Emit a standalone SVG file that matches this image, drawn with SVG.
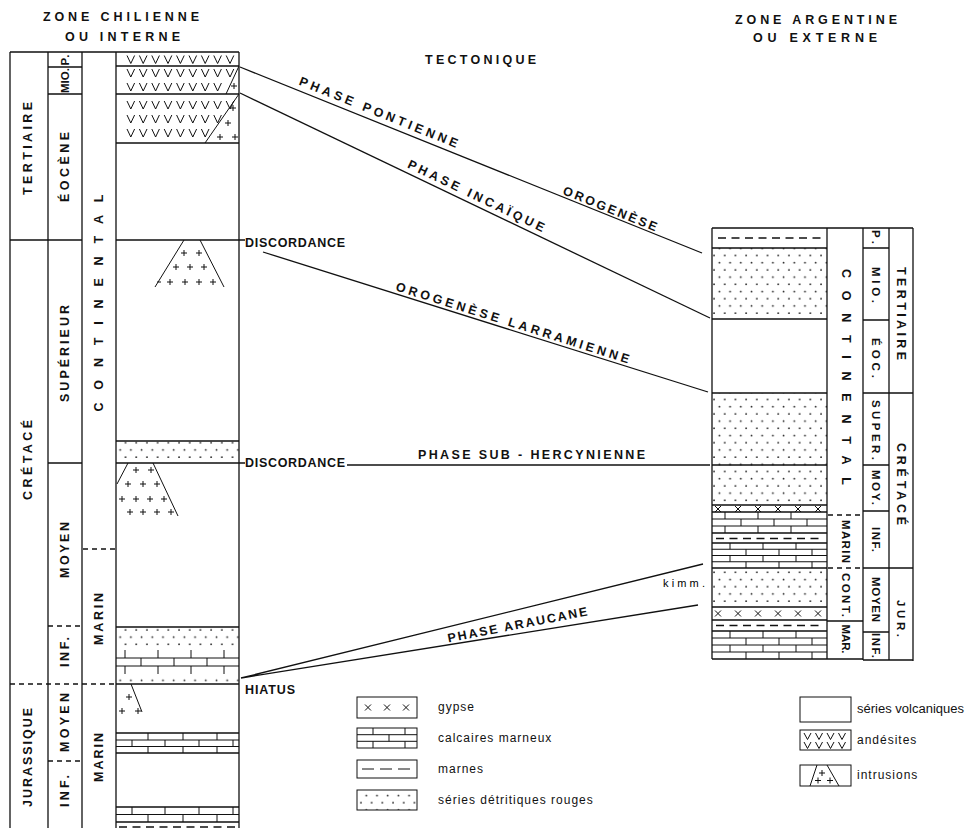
<svg xmlns="http://www.w3.org/2000/svg" width="969" height="828" viewBox="0 0 969 828">
<style>
.ln{stroke:#111;stroke-width:1.3;fill:none}
.th{stroke:#111;stroke-width:1;fill:none}
.dsh{stroke-dasharray:5 4}
.md{stroke:#111;stroke-width:1.3;fill:none;stroke-dasharray:8 5.5}
.t{font-family:"Liberation Sans",Arial,sans-serif;font-weight:bold;font-size:12.5px;fill:#111;text-anchor:middle;dominant-baseline:central}
.s{font-size:11.5px}
.lg{font-family:"Liberation Sans",Arial,sans-serif;font-size:12px;letter-spacing:1px;fill:#111}
.dot{fill:url(#dots);stroke:none}
</style>
<defs>
<pattern id="dots" patternUnits="userSpaceOnUse" width="10.7" height="14.4">
<circle cx="2.5" cy="3.5" r="0.9" fill="#222"/>
<circle cx="7.85" cy="10.7" r="0.9" fill="#222"/>
</pattern>
</defs>
<rect width="969" height="828" fill="#fff"/>

<g id="headers">
<text class="t" x="121" y="17" textLength="156">ZONE CHILIENNE</text>
<text class="t" x="122.5" y="37" textLength="115">OU INTERNE</text>
<text class="t" x="816" y="20" textLength="162">ZONE ARGENTINE</text>
<text class="t" x="815" y="37.5" textLength="124">OU EXTERNE</text>
<text class="t" x="480.5" y="60" textLength="111">TECTONIQUE</text>
</g>

<g id="zone-chilienne">
<rect class="dot" x="116" y="441" width="123" height="22"/>
<rect class="dot" x="116" y="627" width="123" height="23"/>
<rect class="dot" x="116" y="674" width="123" height="10"/>
<path class="ln" d="M10,52 H239 M10,52 V828 M48,52 V828 M82,52 V828 M116,52 V828 M239,52 V828"/>
<path class="ln" d="M116,66 H239 M48,67 H82 M48,94 H82 M116,94 H239 M116,143 H239 M10,240 H82 M116,240 H245 M116,441 H239 M48,463 H82 M116,463 H245 M116,627 H239 M116,684 H239 M116,733 H239 M116,753 H239 M116,807 H239 M116,822 H239"/>
<path class="ln dsh" d="M83,549 H116 M48,626 H82 M10,684 H116 M48,761 H82"/>
<path class="th" d="M127,55.5 l3.8,8 3.8,-8 m4.8,0 l3.8,8 3.8,-8 m4.8,0 l3.8,8 3.8,-8 m4.8,0 l3.8,8 3.8,-8 m4.8,0 l3.8,8 3.8,-8 m4.8,0 l3.8,8 3.8,-8 m4.8,0 l3.8,8 3.8,-8 m4.8,0 l3.8,8 3.8,-8 m4.8,0 l3.8,8 3.8,-8"/>
<path class="th" d="M127,69 l3.8,8 3.8,-8 m4.8,0 l3.8,8 3.8,-8 m4.8,0 l3.8,8 3.8,-8 m4.8,0 l3.8,8 3.8,-8 m4.8,0 l3.8,8 3.8,-8 m4.8,0 l3.8,8 3.8,-8 m4.8,0 l3.8,8 3.8,-8 m4.8,0 l3.8,8 3.8,-8 m4.8,0 l3.8,8 3.8,-8"/>
<path class="th" d="M127,83 l3.8,8 3.8,-8 m4.8,0 l3.8,8 3.8,-8 m4.8,0 l3.8,8 3.8,-8 m4.8,0 l3.8,8 3.8,-8 m4.8,0 l3.8,8 3.8,-8 m4.8,0 l3.8,8 3.8,-8 m4.8,0 l3.8,8 3.8,-8 m4.8,0 l3.8,8 3.8,-8"/>
<path class="th" d="M127,101 l3.8,8 3.8,-8 m4.8,0 l3.8,8 3.8,-8 m4.8,0 l3.8,8 3.8,-8 m4.8,0 l3.8,8 3.8,-8 m4.8,0 l3.8,8 3.8,-8 m4.8,0 l3.8,8 3.8,-8 m4.8,0 l3.8,8 3.8,-8 m4.8,0 l3.8,8 3.8,-8 m4.8,0 l3.8,8 3.8,-8"/>
<path class="th" d="M127,115 l3.8,8 3.8,-8 m4.8,0 l3.8,8 3.8,-8 m4.8,0 l3.8,8 3.8,-8 m4.8,0 l3.8,8 3.8,-8 m4.8,0 l3.8,8 3.8,-8 m4.8,0 l3.8,8 3.8,-8 m4.8,0 l3.8,8 3.8,-8 m4.8,0 l3.8,8 3.8,-8"/>
<path class="th" d="M127,129 l3.8,8 3.8,-8 m4.8,0 l3.8,8 3.8,-8 m4.8,0 l3.8,8 3.8,-8 m4.8,0 l3.8,8 3.8,-8 m4.8,0 l3.8,8 3.8,-8 m4.8,0 l3.8,8 3.8,-8 m4.8,0 l3.8,8 3.8,-8"/>
<path class="th" d="M239,66 L226,94 M239,94 L205,143"/>
<path class="th" d="M231,86 h6 M234,83 v6 M230,108 h6 M233,105 v6 M225,123 h6 M228,120 v6 M217,137 h6 M220,134 v6 M232,137 h6 M235,134 v6"/>
<path class="th" d="M184,240 L155,287 M200,240 L224,287"/>
<path class="th" d="M181,253 h6 M184,250 v6 M196,253 h6 M199,250 v6 M173,267 h6 M176,264 v6 M187,267 h6 M190,264 v6 M201,267 h6 M204,264 v6 M167,282 h6 M170,279 v6 M182,282 h6 M185,279 v6 M196,282 h6 M199,279 v6 M210,282 h6 M213,279 v6 M157,282 h4"/>
<path class="th" d="M128,463 L117,484 M153,463 L178,516"/>
<path class="th" d="M133,470 h6 M136,467 v6 M148,470 h6 M151,467 v6 M125,484 h6 M128,481 v6 M140,484 h6 M143,481 v6 M154,484 h6 M157,481 v6 M119,499 h6 M122,496 v6 M133,499 h6 M136,496 v6 M147,499 h6 M150,496 v6 M161,499 h6 M164,496 v6 M127,512 h6 M130,509 v6 M140,512 h6 M143,509 v6 M154,512 h6 M157,509 v6 M168,512 h6 M171,509 v6"/>
<path class="th" d="M131,684 L142,712"/>
<path class="th" d="M126,697 h6 M129,694 v6 M119,711 h6 M122,708 v6 M135,711 h6 M138,708 v6"/>
<path class="th" d="M116,658 H239 M116,666 H239 M125,650 V658 M158,650 V658 M191,650 V658 M224,650 V658 M141,658 V666 M174,658 V666 M207,658 V666 M125,666 V674 M158,666 V674 M191,666 V674 M224,666 V674"/>
<path class="th" d="M116,740 H239 M116,746.5 H239 M148,733 V740 M183,733 V740 M217,733 V740 M132,740 V746.5 M165,740 V746.5 M199,740 V746.5 M233,740 V746.5 M148,746.5 V753 M183,746.5 V753 M217,746.5 V753"/>
<path class="th" d="M116,814.5 H239 M132,807 V814.5 M165,807 V814.5 M199,807 V814.5 M233,807 V814.5 M148,814.5 V822 M183,814.5 V822 M217,814.5 V822"/>
<path class="md" d="M119,827 H238"/>
</g>

<g id="labels-left">
<text class="t" transform="translate(28,148.5) rotate(-90)" textLength="93">TERTIAIRE</text>
<text class="t" transform="translate(28,460) rotate(-90)" textLength="80">CRÉTACÉ</text>
<text class="t" transform="translate(28,757.5) rotate(-90)" textLength="99">JURASSIQUE</text>
<text class="t s" transform="translate(65,60) rotate(-90)" textLength="11">P.</text>
<text class="t s" transform="translate(65,80.5) rotate(-90)" textLength="25">MIO.</text>
<text class="t" transform="translate(65,167) rotate(-90)" textLength="70">ÉOCÈNE</text>
<text class="t" transform="translate(65,353.5) rotate(-90)" textLength="97">SUPÉRIEUR</text>
<text class="t" transform="translate(65,550) rotate(-90)" textLength="56">MOYEN</text>
<text class="t" transform="translate(65,652) rotate(-90)" textLength="30">INF.</text>
<text class="t" transform="translate(65,722.5) rotate(-90)" textLength="59">MOYEN</text>
<text class="t" transform="translate(65,791) rotate(-90)" textLength="32">INF.</text>
<text class="t" transform="translate(99,303) rotate(-90)" textLength="217">CONTINENTAL</text>
<text class="t" transform="translate(99,619) rotate(-90)" textLength="52">MARIN</text>
<text class="t" transform="translate(99,757.5) rotate(-90)" textLength="49">MARIN</text>
</g>

<g id="zone-argentine">
<rect class="dot" x="712" y="248" width="115" height="71"/>
<rect class="dot" x="712" y="393" width="115" height="112"/>
<rect class="dot" x="712" y="568" width="115" height="39"/>
<path class="ln" d="M712,228 H913 M712,228 V659 M827,228 V659 M863,228 V660 M889,228 V660 M913,228 V661 M712,659 H863 M863,660 H913"/>
<path class="ln" d="M712,248 H827 M712,319 H827 M712,393 H827 M712,465 H827 M712,505 H827 M712,512 H827 M712,533 H827 M712,543 H827 M712,568 H827 M712,607 H827 M712,620 H827 M712,631 H827"/>
<path class="ln" d="M863,248 H889 M863,320 H889 M863,393 H913 M863,465 H889 M863,511 H889 M863,568 H913 M863,632 H889 M827,621 H863"/>
<path class="ln dsh" d="M828,515 H862 M828,568 H862"/>
<path class="md" d="M718,238 H824 M716,538.5 H824 M716,625.5 H824"/>
<path class="th" d="M715,506 l6,6 m0,-6 l-6,6 M735,506 l6,6 m0,-6 l-6,6 M755,506 l6,6 m0,-6 l-6,6 M775,506 l6,6 m0,-6 l-6,6 M795,506 l6,6 m0,-6 l-6,6 M815,506 l6,6 m0,-6 l-6,6"/>
<path class="th" d="M715,610.5 l6,6 m0,-6 l-6,6 M735,610.5 l6,6 m0,-6 l-6,6 M755,610.5 l6,6 m0,-6 l-6,6 M775,610.5 l6,6 m0,-6 l-6,6 M795,610.5 l6,6 m0,-6 l-6,6 M815,610.5 l6,6 m0,-6 l-6,6"/>
<path class="th" d="M712,519 H827 M712,526 H827 M725,512 V519 M758,512 V519 M791,512 V519 M741,519 V526 M774,519 V526 M807,519 V526 M725,526 V533 M758,526 V533 M791,526 V533"/>
<path class="th" d="M712,549.25 H827 M712,555.5 H827 M712,561.75 H827 M730,543 V549.25 M763,543 V549.25 M796,543 V549.25 M746,549.25 V555.5 M779,549.25 V555.5 M812,549.25 V555.5 M730,555.5 V561.75 M763,555.5 V561.75 M796,555.5 V561.75 M746,561.75 V568 M779,561.75 V568 M812,561.75 V568"/>
<path class="th" d="M712,638 H827 M712,645 H827 M712,652 H827 M730,631 V638 M763,631 V638 M796,631 V638 M746,638 V645 M779,638 V645 M812,638 V645 M730,645 V652 M763,645 V652 M796,645 V652 M746,652 V659 M779,652 V659 M812,652 V659"/>
</g>

<g id="labels-right">
<text class="t s" transform="translate(876,237) rotate(90)" textLength="14">P.</text>
<text class="t s" transform="translate(876,285) rotate(90)" textLength="36">MIO.</text>
<text class="t s" transform="translate(876,358) rotate(90)" textLength="40">ÉOC.</text>
<text class="t s" transform="translate(876,430) rotate(90)" textLength="60">SUPER.</text>
<text class="t s" transform="translate(876,487.5) rotate(90)" textLength="35">MOY.</text>
<text class="t s" transform="translate(876,539.5) rotate(90)" textLength="25">INF.</text>
<text class="t s" transform="translate(876,599.5) rotate(90)" textLength="45">MOYEN</text>
<text class="t s" transform="translate(876,645.5) rotate(90)" textLength="25">INF.</text>
<text class="t" transform="translate(901,313.5) rotate(90)" textLength="93">TERTIAIRE</text>
<text class="t" transform="translate(901,484) rotate(90)" textLength="82">CRÉTACÉ</text>
<text class="t s" transform="translate(901,618.5) rotate(90)" textLength="37">JUR.</text>
<text class="t" transform="translate(846,377) rotate(90)" textLength="216">CONTINENTAL</text>
<text class="t s" transform="translate(846,541.5) rotate(90)" textLength="43">MARIN</text>
<text class="t s" transform="translate(846,595) rotate(90)" textLength="44">CONT.</text>
<text class="t s" transform="translate(846,639) rotate(90)" textLength="29">MAR.</text>
</g>

<g id="connectors">
<path class="ln" d="M240,67 L702,253"/>
<path class="ln" d="M240,93 L710,318"/>
<path class="ln" d="M263,252 L708,392"/>
<path class="ln" d="M347,465 L710,465"/>
<path class="ln" d="M241,678 L703,564 M241,678 L698,605"/>
</g>

<g id="connector-labels">
<text class="t" x="295" y="242.5" textLength="100">DISCORDANCE</text>
<text class="t" x="295" y="463" textLength="100">DISCORDANCE</text>
<text class="t" x="270" y="690" textLength="50">HIATUS</text>
<text x="684" y="587" text-anchor="middle" textLength="42" style="font-family:'Liberation Sans',Arial,sans-serif;font-size:11px;fill:#000">kimm.</text>
<text class="t" transform="translate(378.5,112.5) rotate(21.93)" textLength="170">PHASE PONTIENNE</text>
<text class="t" transform="translate(610,209) rotate(21.93)" textLength="100">OROGENÈSE</text>
<text class="t" transform="translate(476,196) rotate(25.59)" textLength="150">PHASE INCAÏQUE</text>
<text class="t" transform="translate(512.5,323) rotate(17.46)" textLength="244">OROGENÈSE LARRAMIENNE</text>
<text class="t" x="531.5" y="455" textLength="227">PHASE SUB - HERCYNIENNE</text>
<text class="t" transform="translate(517.5,625) rotate(-11)" textLength="142">PHASE ARAUCANE</text>
</g>

<g id="legend-gypse">
<rect class="th" x="357" y="697" width="60" height="21"/>
<path class="th" d="M365,704.5 l6,6 m0,-6 l-6,6 M384,704.5 l6,6 m0,-6 l-6,6 M403,704.5 l6,6 m0,-6 l-6,6"/>
<text class="lg" x="438" y="711">gypse</text>
</g>
<g id="legend-calcaires">
<rect class="th" x="357" y="728" width="60" height="20"/>
<path class="th" d="M357,734.7 H417 M357,741.3 H417 M373,728 V734.7 M405,728 V734.7 M389,734.7 V741.3 M373,741.3 V748 M405,741.3 V748"/>
<text class="lg" x="438" y="742">calcaires marneux</text>
</g>
<g id="legend-marnes">
<rect class="th" x="357" y="760" width="60" height="18"/>
<path class="th" d="M362,769 H374 M380,769 H392 M398,769 H410"/>
<text class="lg" x="438" y="773">marnes</text>
</g>
<g id="legend-detritiques">
<rect x="357" y="790" width="60" height="20" style="fill:url(#dots);stroke:#111;stroke-width:1"/>
<text class="lg" x="438" y="804">séries détritiques rouges</text>
</g>
<g id="legend-volcaniques">
<rect class="th" x="800" y="697" width="51" height="25"/>
<text class="lg" x="857" y="713" textLength="107" lengthAdjust="spacingAndGlyphs" style="letter-spacing:0">séries volcaniques</text>
</g>
<g id="legend-andesites">
<rect class="th" x="800" y="730" width="51" height="20"/>
<path class="th" d="M804,733 l3.5,6.5 3.5,-6.5 m4.5,0 l3.5,6.5 3.5,-6.5 m4.5,0 l3.5,6.5 3.5,-6.5 m4.5,0 l3.5,6.5 3.5,-6.5 M804,742 l3.5,6.5 3.5,-6.5 m4.5,0 l3.5,6.5 3.5,-6.5 m4.5,0 l3.5,6.5 3.5,-6.5 m4.5,0 l3.5,6.5 3.5,-6.5"/>
<text class="lg" x="857" y="744">andésites</text>
</g>
<g id="legend-intrusions">
<rect class="th" x="800" y="765" width="51" height="21"/>
<path class="th" d="M817,765 L810,786 M827,765 L839,786 M819,773 h6 M822,770 v6 M815,780.5 h6 M818,777.5 v6 M827,780.5 h6 M830,777.5 v6"/>
<text class="lg" x="857" y="779">intrusions</text>
</g>
</svg>
